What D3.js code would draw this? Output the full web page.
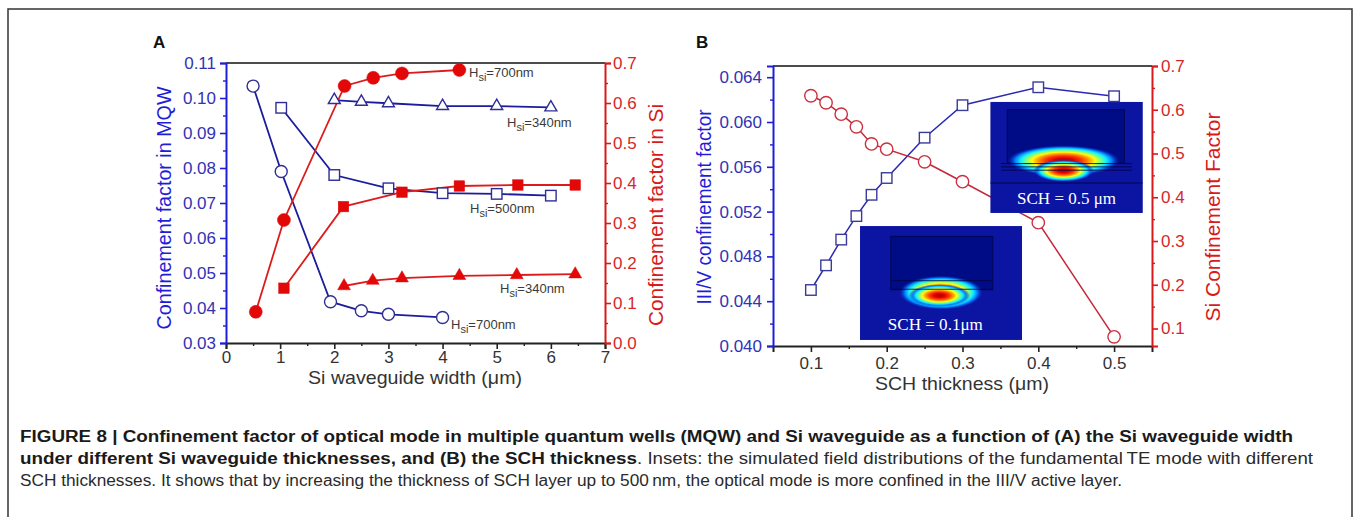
<!DOCTYPE html>
<html><head><meta charset="utf-8">
<script src="https://cdn.jsdelivr.net/npm/d3@7"></script>
<style>
body{margin:0;background:#fff}
svg{display:block}
</style>
</head><body>
<svg id="chart" width="1356" height="517" font-family="'Liberation Sans',Arial,Helvetica,sans-serif"></svg>
<script>
// ---------------- DATA ----------------
// Panel A
const A_xTicks = [0,1,2,3,4,5,6,7];
const A_xMinor = [0.5,1.5,2.5,3.5,4.5,5.5,6.5];
const A_leftTicks = [0.03,0.04,0.05,0.06,0.07,0.08,0.09,0.10,0.11];
const A_leftMinor = [0.035,0.045,0.055,0.065,0.075,0.085,0.095,0.105];
const A_rightTicks = [0.0,0.1,0.2,0.3,0.4,0.5,0.6,0.7];
const A_rightMinor = [0.05,0.15,0.25,0.35,0.45,0.55,0.65];

// MQW confinement (blue, left axis)
const mqw700_x = [0.5, 1.02, 1.93, 2.5, 3.0, 4.0];
const mqw700_y = [0.1034, 0.0790, 0.0418, 0.0392, 0.0382, 0.0373];
const mqw500_x = [1.02, 2.0, 3.0, 4.0, 5.0, 6.0];
const mqw500_y = [0.0972, 0.0780, 0.0742, 0.0728, 0.0726, 0.0721];
const mqw340_x = [2.0, 2.5, 3.0, 4.0, 5.0, 6.0];
const mqw340_y = [0.0994, 0.0989, 0.0985, 0.0977, 0.0977, 0.0973];

// Si confinement (red, right axis)
const si700_x = [0.55, 1.07, 2.19, 2.72, 3.25, 4.31];
const si700_y = [0.078, 0.3075, 0.6425, 0.663, 0.674, 0.6825];
const si500_x = [1.07, 2.17, 3.25, 4.31, 5.39, 6.45];
const si500_y = [0.137, 0.341, 0.377, 0.3925, 0.395, 0.395];
const si340_x = [2.18, 2.71, 3.25, 4.31, 5.37, 6.45];
const si340_y = [0.1425, 0.156, 0.162, 0.168, 0.170, 0.172];

// Panel B
const B_xTicks = [0.1,0.2,0.3,0.4,0.5];
const B_xMinor = [0.15,0.25,0.35,0.45];
const B_leftTicks = [0.040,0.044,0.048,0.052,0.056,0.060,0.064];
const B_leftMinor = [0.042,0.046,0.050,0.054,0.058,0.062];
const B_rightTicks = [0.1,0.2,0.3,0.4,0.5,0.6,0.7];
const B_rightMinor = [0.15,0.25,0.35,0.45,0.55,0.65];

const sch_x = [0.1, 0.12, 0.14, 0.16, 0.18, 0.2, 0.25, 0.3, 0.4, 0.5];
const iiiv_y = [0.0450, 0.0472, 0.0495, 0.0516, 0.0535, 0.0550, 0.0586, 0.0615, 0.0631, 0.0623];
const siB_y  = [0.632, 0.616, 0.590, 0.561, 0.522, 0.510, 0.481, 0.4355, 0.342, 0.081];

// Caption
const caption1 = "FIGURE 8 | Confinement factor of optical mode in multiple quantum wells (MQW) and Si waveguide as a function of (A) the Si waveguide width";
const caption2b = "under different Si waveguide thicknesses, and (B) the SCH thickness";
const caption2n = ". Insets: the simulated field distributions of the fundamental\u2009TE mode with different";
const caption3 = "SCH thicknesses. It shows that by increasing the thickness of SCH layer up to 500\u2009nm, the optical mode is more confined in the III/V active layer.";

// ---------------- STYLE ----------------
const BLUE_AX = "#1e1ed8", BLUE_TXT = "#3232b4", BLUE_LINE = "#1c1c9c", BLUE_MK = "#2e2e96";
const RED_AX = "#d81a1a", RED_TXT = "#d42828", RED_FILL = "#e30808", RED_LINE = "#dc1c1c";
const DARK = "#222";
const SANS = "'Liberation Sans',Arial,Helvetica,sans-serif";

const svg = d3.select("#chart");

// outer frame
svg.append("path").attr("d","M8,517V9H1352V517").attr("fill","none").attr("stroke","#333").attr("stroke-width",1.5);

function styleAxis(g, color, txtColor, fs, width){
  g.attr("font-family", SANS);
  g.select(".domain").attr("stroke", color).attr("stroke-width", width||2);
  g.selectAll(".tick line").attr("stroke", color).attr("stroke-width", 1.6);
  g.selectAll(".tick text").attr("fill", txtColor).attr("font-size", fs||17);
}
function minorAxis(g, color){
  g.select(".domain").remove();
  g.selectAll(".tick line").attr("stroke", color).attr("stroke-width", 1.4);
}

// ---------------- PANEL A ----------------
const A = {l:226, r:605, t:63, b:343};
const xA = d3.scaleLinear().domain([0,7]).range([A.l, A.r]);
const yAL = d3.scaleLinear().domain([0.03,0.11]).range([A.b, A.t]);
const yAR = d3.scaleLinear().domain([0,0.7]).range([A.b, A.t]);

const gA = svg.append("g");
gA.append("line").attr("x1",A.l).attr("x2",A.r).attr("y1",A.t).attr("y2",A.t).attr("stroke","#111").attr("stroke-width",1.6);

let ax;
ax = gA.append("g").attr("transform",`translate(0,${A.b})`)
  .call(d3.axisBottom(xA).tickValues(A_xMinor).tickSize(3).tickFormat(""));
minorAxis(ax, DARK);
ax = gA.append("g").attr("transform",`translate(0,${A.b})`)
  .call(d3.axisBottom(xA).tickValues(A_xTicks).tickSize(6).tickPadding(2).tickFormat(d3.format("d")));
styleAxis(ax, DARK, "#333", 17);

ax = gA.append("g").attr("transform",`translate(${A.l},0)`)
  .call(d3.axisLeft(yAL).tickValues(A_leftMinor).tickSize(3).tickFormat(""));
minorAxis(ax, BLUE_AX);
ax = gA.append("g").attr("transform",`translate(${A.l},0)`)
  .call(d3.axisLeft(yAL).tickValues(A_leftTicks).tickSize(6).tickPadding(4).tickFormat(d3.format(".2f")));
styleAxis(ax, BLUE_AX, BLUE_TXT, 17);

ax = gA.append("g").attr("transform",`translate(${A.r},0)`)
  .call(d3.axisRight(yAR).tickValues(A_rightMinor).tickSize(3).tickFormat(""));
minorAxis(ax, RED_AX);
ax = gA.append("g").attr("transform",`translate(${A.r},0)`)
  .call(d3.axisRight(yAR).tickValues(A_rightTicks).tickSize(6).tickPadding(2).tickFormat(d3.format(".1f")));
styleAxis(ax, RED_AX, RED_TXT, 17);

gA.append("text").attr("transform","translate(171,208) rotate(-90)").attr("text-anchor","middle")
  .attr("font-size",19.5).attr("fill",BLUE_AX).attr("textLength",243).attr("lengthAdjust","spacingAndGlyphs")
  .text("Confinement factor in MQW");
gA.append("text").attr("transform","translate(663,215) rotate(-90)").attr("text-anchor","middle")
  .attr("font-size",19.5).attr("fill",RED_AX).attr("textLength",222).attr("lengthAdjust","spacingAndGlyphs")
  .text("Confinement factor in Si");
gA.append("text").attr("x",415).attr("y",384).attr("text-anchor","middle")
  .attr("font-size",18.5).attr("fill","#333").attr("textLength",214).attr("lengthAdjust","spacingAndGlyphs")
  .text("Si waveguide width (\u03bcm)");
gA.append("text").attr("x",153).attr("y",48).attr("font-size",17).attr("font-weight","bold").attr("fill","#111").text("A");

function series(g, xs, ys, xs_, ys_, lineColor, lw){
  const pts = xs.map((d,i)=>[xs_(d), ys_(ys[i])]);
  g.append("path").attr("d", d3.line()(pts)).attr("fill","none").attr("stroke",lineColor).attr("stroke-width",lw||1.8);
  return pts;
}
function circles(g, pts, r, fill, stroke, sw){
  g.selectAll(null).data(pts).join("circle").attr("cx",d=>d[0]).attr("cy",d=>d[1]).attr("r",r)
    .attr("fill",fill).attr("stroke",stroke).attr("stroke-width",sw||1.4);
}
function squares(g, pts, s, fill, stroke, sw){
  g.selectAll(null).data(pts).join("rect").attr("x",d=>d[0]-s/2).attr("y",d=>d[1]-s/2).attr("width",s).attr("height",s)
    .attr("fill",fill).attr("stroke",stroke).attr("stroke-width",sw||1.4);
}
function triangles(g, pts, area, fill, stroke, sw){
  const sym = d3.symbol().type(d3.symbolTriangle).size(area);
  g.selectAll(null).data(pts).join("path").attr("d",sym).attr("transform",d=>`translate(${d[0]},${d[1]})`)
    .attr("fill",fill).attr("stroke",stroke).attr("stroke-width",sw||1.4);
}

const pB700 = series(gA, mqw700_x, mqw700_y, xA, yAL, BLUE_LINE);
const pB500 = series(gA, mqw500_x, mqw500_y, xA, yAL, BLUE_LINE);
const pB340 = series(gA, mqw340_x, mqw340_y, xA, yAL, BLUE_LINE);
const pR700 = series(gA, si700_x, si700_y, xA, yAR, RED_LINE);
const pR500 = series(gA, si500_x, si500_y, xA, yAR, RED_LINE);
const pR340 = series(gA, si340_x, si340_y, xA, yAR, RED_LINE);
circles(gA, pB700, 6, "#fff", BLUE_MK);
squares(gA, pB500, 10.5, "#fff", BLUE_MK);
triangles(gA, pB340, 62, "#fff", BLUE_MK);
circles(gA, pR700, 6.5, RED_FILL, RED_FILL, 0.5);
squares(gA, pR500, 10.5, RED_FILL, RED_FILL, 0.5);
triangles(gA, pR340, 72, RED_FILL, RED_FILL, 0.5);

function hLabel(g, x, y, val){
  const t = g.append("text").attr("x",x).attr("y",y).attr("font-size",13).attr("fill","#3a3a3a");
  t.append("tspan").text("H");
  t.append("tspan").attr("font-size",11).attr("dy",4).text("si");
  t.append("tspan").attr("dy",-4).text("=" + val);
}
hLabel(gA, 469, 77, "700nm");
hLabel(gA, 507, 127, "340nm");
hLabel(gA, 470, 213, "500nm");
hLabel(gA, 500, 293, "340nm");
hLabel(gA, 451, 329, "700nm");

// ---------------- PANEL B ----------------
const B = {l:773, r:1152, t:66, b:346};
const xB = d3.scaleLinear().domain([0.05,0.55]).range([B.l, B.r]);
const yBL = d3.scaleLinear().domain([0.040,0.065]).range([B.b, B.t]);
const yBR = d3.scaleLinear().domain([0.06,0.7]).range([B.b, B.t]);

const gB = svg.append("g");
gB.append("line").attr("x1",B.l).attr("x2",B.r).attr("y1",B.t).attr("y2",B.t).attr("stroke","#111").attr("stroke-width",1.6);

ax = gB.append("g").attr("transform",`translate(0,${B.b})`)
  .call(d3.axisBottom(xB).tickValues(B_xMinor).tickSize(3).tickFormat(""));
minorAxis(ax, DARK);
ax = gB.append("g").attr("transform",`translate(0,${B.b})`)
  .call(d3.axisBottom(xB).tickValues(B_xTicks).tickSize(6).tickPadding(5).tickFormat(d3.format(".1f")));
styleAxis(ax, DARK, "#333", 17);

ax = gB.append("g").attr("transform",`translate(${B.l},0)`)
  .call(d3.axisLeft(yBL).tickValues(B_leftMinor).tickSize(3).tickFormat(""));
minorAxis(ax, BLUE_AX);
ax = gB.append("g").attr("transform",`translate(${B.l},0)`)
  .call(d3.axisLeft(yBL).tickValues(B_leftTicks).tickSize(6).tickPadding(5).tickFormat(d3.format(".3f")));
styleAxis(ax, BLUE_AX, BLUE_TXT, 17);

ax = gB.append("g").attr("transform",`translate(${B.r},0)`)
  .call(d3.axisRight(yBR).tickValues(B_rightMinor).tickSize(3).tickFormat(""));
minorAxis(ax, RED_AX);
ax = gB.append("g").attr("transform",`translate(${B.r},0)`)
  .call(d3.axisRight(yBR).tickValues(B_rightTicks).tickSize(6).tickPadding(3).tickFormat(d3.format(".1f")));
styleAxis(ax, RED_AX, RED_TXT, 17);

gB.append("text").attr("transform","translate(711,207) rotate(-90)").attr("text-anchor","middle")
  .attr("font-size",19.5).attr("fill",BLUE_AX).attr("textLength",195).attr("lengthAdjust","spacingAndGlyphs")
  .text("III/V confinement factor");
gB.append("text").attr("transform","translate(1220,217) rotate(-90)").attr("text-anchor","middle")
  .attr("font-size",19.5).attr("fill",RED_AX).attr("textLength",209).attr("lengthAdjust","spacingAndGlyphs")
  .text("Si Confinement Factor");
gB.append("text").attr("x",962).attr("y",390).attr("text-anchor","middle")
  .attr("font-size",19).attr("fill","#333").attr("textLength",174).attr("lengthAdjust","spacingAndGlyphs")
  .text("SCH thickness (\u03bcm)");
gB.append("text").attr("x",696).attr("y",48).attr("font-size",17).attr("font-weight","bold").attr("fill","#111").text("B");

const pBB = series(gB, sch_x, iiiv_y, xB, yBL, "#2a2ab0", 1.5);
const pBR = series(gB, sch_x, siB_y, xB, yBR, "#c4283a", 1.5);

// insets (simulated field images) — boxes positioned in data units
const defs = svg.append("defs");
const jet = defs.append("radialGradient").attr("id","jet");
[[0,"#a80000"],[0.18,"#e00000"],[0.33,"#ff3a00"],[0.46,"#ffa000"],[0.56,"#ffff10"],[0.66,"#80ff80"],[0.76,"#10f0ff"],[0.86,"#0080ff"],[1,"#0818a8"]]
  .forEach(([o,c])=>jet.append("stop").attr("offset",o).attr("stop-color",c).attr("stop-opacity", o===1?0:1));

const BG = "#0c14a2", INNER = "#000c86";
function inset(g, box, inner, lobes, lines, label){
  const x0 = xB(box[0]), x1 = xB(box[1]), y0 = yBL(box[2]), y1 = yBL(box[3]);
  const w = x1-x0, h = y1-y0;
  const ig = g.append("g").attr("transform",`translate(${x0},${y0})`);
  ig.append("rect").attr("width",w).attr("height",h).attr("fill",BG);
  ig.append("rect").attr("x",inner[0]*w).attr("y",inner[1]*h).attr("width",(inner[2]-inner[0])*w).attr("height",(inner[3]-inner[1])*h)
    .attr("fill",INNER).attr("stroke","#00064a").attr("stroke-width",0.8);
  lobes.forEach(l=>ig.append("ellipse").attr("cx",l[0]*w).attr("cy",l[1]*h).attr("rx",l[2]*w).attr("ry",l[3]*h).attr("fill","url(#jet)"));
  lines.forEach(l=>ig.append("line").attr("x1",l[0]*w).attr("x2",l[1]*w).attr("y1",l[2]*h).attr("y2",l[2]*h)
    .attr("stroke","#000640").attr("stroke-width",1).attr("opacity",0.85));
  ig.append("text").attr("x",label[1]*w).attr("y",label[2]*h).attr("text-anchor","middle")
    .attr("font-family","'Liberation Serif','Times New Roman',serif").attr("font-size",17).attr("fill","#fff")
    .attr("textLength",label[3]).attr("lengthAdjust","spacingAndGlyphs").text(label[0]);
}
inset(gB, [0.1648,0.3785,0.05071,0.04054],
  [0.19,0.09,0.82,0.56],
  [[0.50,0.585,0.26,0.15],[0.49,0.61,0.19,0.10]],
  [[0.19,0.82,0.48],[0.19,0.82,0.555]],
  ["SCH = 0.1\u03bcm",0.465,0.915,95]);
inset(gB, [0.3368,0.5378,0.06179,0.05188],
  [0.11,0.07,0.88,0.55],
  [[0.48,0.53,0.37,0.14],[0.48,0.62,0.20,0.10]],
  [[0.07,0.93,0.555],[0.07,0.93,0.585],[0.07,0.93,0.615],[0.0,1.0,0.73]],
  ["SCH = 0.5 \u03bcm",0.50,0.92,99]);

squares(gB, pBB, 10.5, "#fff", "#3a3a9c", 1.4);
circles(gB, pBR, 6.2, "#fff", "#cc3040", 1.4);

// ---------------- CAPTION ----------------
const capFont = "'Liberation Sans Narrow','Arial Narrow','Liberation Sans',Arial,sans-serif";
function cap(x, y, txt, len, bold){
  svg.append("text").attr("x",x).attr("y",y).attr("font-family",capFont).attr("font-size",16)
    .attr("font-weight", bold?"bold":"normal").attr("fill", bold?"#1a1a1a":"#2a2a2a")
    .attr("textLength",len).attr("lengthAdjust","spacingAndGlyphs").text(txt);
}
cap(20, 442, caption1, 1273, true);
cap(20, 464, caption2b, 617, true);
cap(637, 464, caption2n, 676, false);
cap(20, 486, caption3, 1102, false);
</script>
</body></html>
